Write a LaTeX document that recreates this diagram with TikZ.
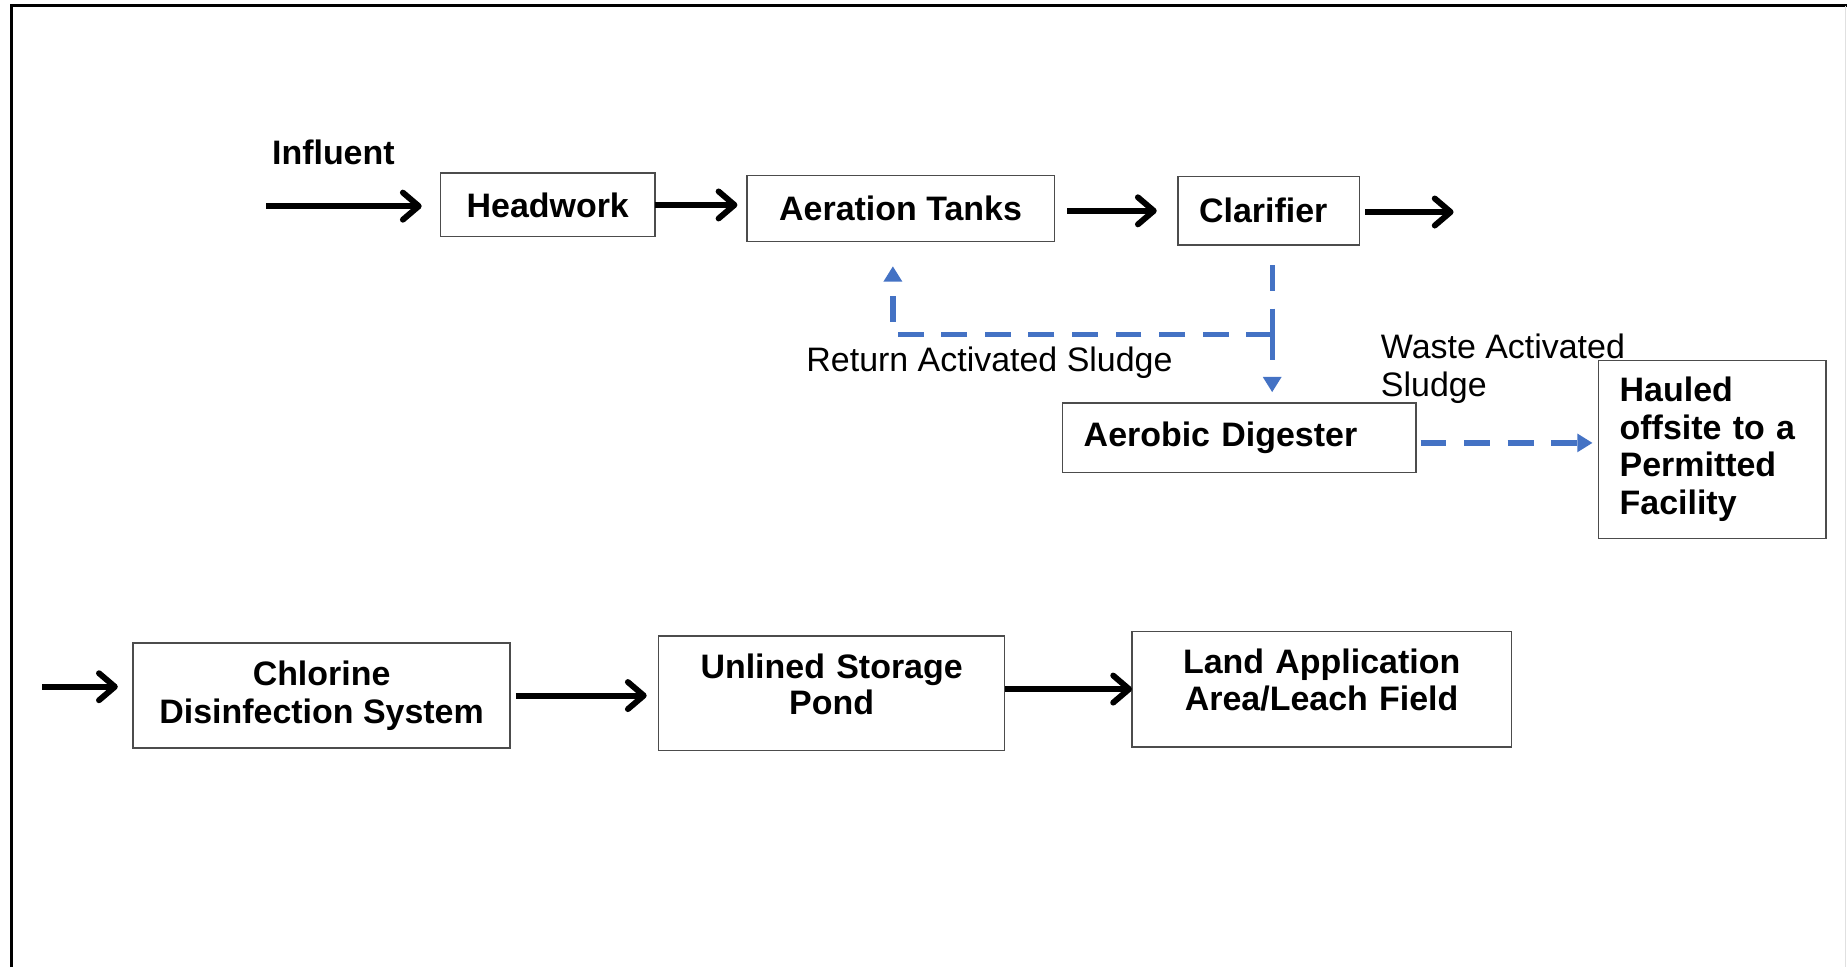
\documentclass[tikz,border=0pt]{standalone}
\usepackage{fontspec}
\setmainfont{Liberation Sans}
\usetikzlibrary{arrows.meta}
\definecolor{bl}{RGB}{68,114,196}
\begin{document}
\begin{tikzpicture}[x=0.02cm,y=-0.02cm,
  font=\fontsize{16.4pt}{18.2pt}\selectfont,
  box/.style={draw=black!70, line width=0.7pt, inner sep=0pt, outer sep=0pt, align=center,
    font=\fontsize{16.4pt}{18.2pt}\selectfont\bfseries},
  lbox/.style={box, inner xsep=0.36cm, align=left},
  tbox/.style={box, font=\fontsize{16.4pt}{17.6pt}\selectfont\bfseries, text height=0.45cm},
  arr/.style={line width=0.1cm, -{Straight Barb[length=0.27cm,width=0.46cm,round]}},
  bdash/.style={draw=bl, line width=0.09cm, dash pattern=on 0.44cm off 0.3cm},
  btip/.style={-{Triangle[length=0.26cm,width=0.3cm,fill=bl]}},
]
\useasboundingbox (0,0) rectangle (1568,821);
% frame
\draw[line width=0.05cm] (10,821) -- (10,4.7) -- (1568,4.7);
\draw[black!12, line width=0.02cm] (1566.5,4.7) -- (1566.5,821);

% boxes
\node[box, minimum width=3.64cm, minimum height=1.08cm] (hw) at (465,174) {Headwork};
\node[box, minimum width=5.22cm, minimum height=1.12cm] (at) at (764.5,177) {Aeration Tanks};
\node[lbox, text width=2.36cm, minimum height=1.16cm] (cl) at (1077,179) {Clarifier};
\node[lbox, text width=5.28cm, minimum height=1.18cm] (ad) at (1052,371.5) {Aerobic Digester};
\node[lbox, text width=3.14cm, minimum height=3.02cm] (ha) at (1453.5,381.5) {Hauled\\offsite to a\\Permitted\\Facility};
\node[box, minimum width=6.40cm, minimum height=1.78cm] (ch) at (273,590.5) {Chlorine\\Disinfection System};
\node[tbox, text width=5.88cm, text depth=0.95cm, minimum height=1.94cm] (un) at (706,588.5) {Unlined Storage\\Pond};
\node[tbox, text width=6.44cm, text depth=0.97cm, minimum height=1.96cm] (ld) at (1122,585) {Land Application\\Area/Leach Field};

% labels
\node[font=\fontsize{16.4pt}{18.2pt}\selectfont\bfseries] (infl) at (283,129) {Influent};
\node (ras) at (840,308) {Return Activated Sludge};
\node[align=left, anchor=west, inner sep=0pt] (was) at (1172,313) {Waste Activated\\Sludge};

% black flow arrows
\coordinate (inf) at (226,175);
\draw[arr, shorten >=0.32cm] (inf) -- (inf -| hw.west);
\draw[arr, shorten >=0.16cm] (hw.east) -- (hw.east -| at.west);
\draw[arr, shorten <=0.22cm, shorten >=0.36cm] (cl.west -| at.east) -- (cl.west);
\coordinate (out) at (1234,180);
\draw[arr, shorten <=0.1cm] (out -| cl.east) -- (out);
\coordinate (in2) at (36,583);
\draw[arr, shorten >=0.26cm] (in2) -- (in2 -| ch.west);
\draw[arr, shorten <=0.1cm, shorten >=0.2cm] (ch.east) -- (ch.east -| un.west);
\draw[arr] (ld.west -| un.east) -- (ld.west);

% blue dashed sludge lines
\coordinate (j) at (1080,284);
\draw[bdash, shorten <=0.34cm] (j |- cl.south) -- (j);
\draw[bdash, btip, shorten >=0.42cm] (j) -| ([xshift=-0.13cm]at.south);
\draw[bdash, btip, shorten >=0.18cm] (j) -- (j |- ad.north);
\draw[bdash, btip, shorten <=0.08cm, shorten >=0.1cm] ([yshift=-0.09cm]ad.east) -- ([yshift=-0.09cm]ad.east -| ha.west);
\end{tikzpicture}
\end{document}
